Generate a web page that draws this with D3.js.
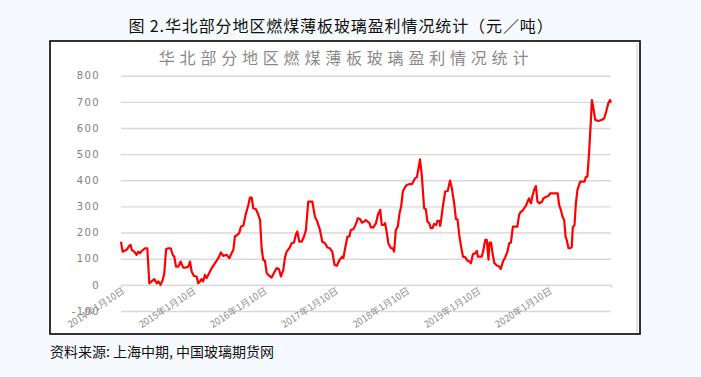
<!DOCTYPE html>
<html>
<head>
<meta charset="utf-8">
<script src="https://cdn.jsdelivr.net/npm/d3@7"></script>
<style>
  body { margin: 0; background: #f6f9fd; }
  svg { display: block; }
  .page-title { font-family: "Noto Sans CJK SC", sans-serif; font-size: 16px; fill: #111; letter-spacing: 0.9px; }
  .chart-title { font-family: "Noto Sans CJK SC", sans-serif; font-size: 16px; fill: #8a8a8a; letter-spacing: 4.8px; }
  .source { font-family: "Noto Sans CJK SC", sans-serif; font-size: 14px; fill: #111; }
  .y-axis text { font-family: "DejaVu Sans", sans-serif; font-size: 10px; fill: #7f7f7f; letter-spacing: 1.4px; }
  .x-axis text { font-family: "Noto Sans CJK SC", sans-serif; font-size: 9.5px; fill: #8f8f8f; }
</style>
</head>
<body>
<svg id="chart"></svg>
<script>
// weekly profit of coal-fired thin float glass, north China (yuan / ton)
const dates = [
  '2014-01-10','2014-01-18','2014-02-08','2014-02-21','2014-02-28','2014-03-06','2014-03-19','2014-03-31',
  '2014-04-08','2014-04-17','2014-04-26','2014-05-04','2014-05-13','2014-05-25','2014-06-04','2014-06-16',
  '2014-06-30','2014-07-12','2014-07-20','2014-08-01','2014-08-12','2014-08-20','2014-08-29','2014-09-09',
  '2014-09-22','2014-10-02','2014-10-10','2014-10-19','2014-10-31','2014-11-12','2014-11-25','2014-12-09',
  '2014-12-21','2014-12-30',
  '2015-01-07','2015-01-19','2015-02-02','2015-02-10','2015-02-19','2015-02-27','2015-03-07','2015-03-16',
  '2015-03-25','2015-04-02','2015-04-20','2015-05-07','2015-05-24','2015-06-06','2015-06-18','2015-07-06',
  '2015-07-19','2015-07-31','2015-08-09','2015-08-17','2015-08-29','2015-09-08','2015-09-17','2015-09-29',
  '2015-10-11','2015-10-25','2015-11-02','2015-11-11','2015-11-19','2015-12-03','2015-12-15','2015-12-24',
  '2016-01-01','2016-01-09','2016-01-18','2016-01-27','2016-02-04','2016-02-21','2016-03-04','2016-03-18',
  '2016-03-30','2016-04-09','2016-04-21','2016-04-30','2016-05-08','2016-05-22','2016-06-03','2016-06-15',
  '2016-06-25','2016-07-02','2016-07-12','2016-07-24','2016-08-05','2016-08-15','2016-08-27','2016-09-17',
  '2016-09-30','2016-10-12','2016-10-26','2016-11-07','2016-11-21','2016-12-03','2016-12-16','2016-12-28',
  '2017-01-09','2017-01-21','2017-02-03','2017-02-17','2017-02-23','2017-03-04','2017-03-16','2017-03-26',
  '2017-04-02','2017-04-16','2017-04-30','2017-05-08','2017-05-20','2017-05-29','2017-06-10','2017-06-18',
  '2017-06-27','2017-07-07','2017-07-14','2017-07-27','2017-08-09','2017-08-19','2017-08-31','2017-09-08',
  '2017-09-18','2017-09-25','2017-10-04','2017-10-12','2017-10-25','2017-11-03','2017-11-10','2017-11-19',
  '2017-11-29','2017-12-08','2017-12-16','2017-12-25',
  '2018-01-02','2018-01-14','2018-01-26','2018-02-09','2018-02-17','2018-02-26','2018-03-07','2018-03-15',
  '2018-03-23','2018-04-01','2018-04-13','2018-04-22','2018-04-30','2018-05-09','2018-05-17','2018-05-26',
  '2018-06-03','2018-06-14','2018-06-20','2018-07-01','2018-07-04','2018-07-09','2018-07-18','2018-07-30',
  '2018-08-12','2018-08-24','2018-09-02','2018-09-14','2018-09-23','2018-10-01','2018-10-10','2018-10-18',
  '2018-10-29','2018-11-09','2018-11-21','2018-12-01','2018-12-09','2018-12-19','2018-12-31',
  '2019-01-09','2019-01-13','2019-02-03','2019-02-11','2019-02-20','2019-02-28','2019-03-09','2019-03-14',
  '2019-03-22','2019-03-31','2019-04-08','2019-04-21','2019-05-03','2019-05-11','2019-05-22','2019-06-02',
  '2019-06-14','2019-06-23','2019-07-02','2019-07-12','2019-08-04','2019-08-13','2019-08-22','2019-08-30',
  '2019-09-08','2019-09-17','2019-09-25','2019-10-03','2019-10-08','2019-10-13','2019-10-20','2019-10-29',
  '2019-11-07','2019-11-15','2019-11-25','2019-12-08','2019-12-16','2019-12-30',
  '2020-01-10','2020-01-19','2020-02-05','2020-02-27','2020-03-05','2020-03-14','2020-03-22','2020-03-31',
  '2020-04-07','2020-04-14','2020-04-22','2020-05-01','2020-05-09','2020-05-14','2020-05-23','2020-05-30',
  '2020-06-07','2020-06-21','2020-07-13','2020-07-20','2020-07-28','2020-08-06','2020-08-15','2020-08-20',
  '2020-08-28','2020-09-06','2020-09-23','2020-10-10','2020-10-22','2020-11-01','2020-11-12','2020-11-21',
  '2020-11-26'
];
const profits = [
  165,127,134,149,153,134,127,115,
  127,121,130,134,140,140,6,13,
  22,6,13,0,19,45,136,140,
  140,115,108,70,70,89,66,66,
  70,89,
  51,34,32,6,13,22,13,38,
  26,38,64,83,102,124,111,115,
  102,121,134,185,191,198,223,226,
  268,306,334,334,293,289,268,248,
  140,96,92,45,38,28,45,64,
  60,32,57,106,127,140,159,162,
  194,204,165,165,185,210,318,318,
  261,242,210,165,159,143,140,127,
  76,73,95,108,102,140,185,185,
  210,213,236,255,251,238,242,248,
  242,236,220,220,236,268,287,229,
  229,236,198,157,140,140,127,210,
  223,274,299,357,
  370,382,385,385,395,408,412,446,
  480,420,293,289,242,236,217,217,
  233,229,245,245,226,248,299,357,
  359,399,370,312,251,251,191,153,
  108,106,93,89,83,117,121,
  130,108,108,134,172,172,96,162,
  162,115,83,74,70,61,89,104,
  127,159,162,223,223,268,280,283,
  293,302,318,331,318,312,340,363,
  378,318,312,318,331,337,
  340,350,350,350,306,287,261,248,
  185,169,140,140,146,220,229,312,
  363,395,395,412,414,510,630,707,
  675,631,627,631,637,662,694,707,
  697
];
const yTicks = [-100, 0, 100, 200, 300, 400, 500, 600, 700, 800];
const xTickDates = ['2014-01-10','2015-01-10','2016-01-10','2017-01-10','2018-01-10','2019-01-10','2020-01-10'];

const pageTitle = '图 2.华北部分地区燃煤薄板玻璃盈利情况统计（元／吨）';
const chartTitle = '华北部分地区燃煤薄板玻璃盈利情况统计';
const sourceNote = '资料来源: 上海中期, 中国玻璃期货网';

const config = {
  width: 701,
  height: 377,
  frame: {x: 50, y: 41, w: 590, h: 293},
  plot: {left: 121, right: 611, top: 75.7, bottom: 311}
};

const parseDate = d3.timeParse('%Y-%m-%d');
const data = dates.map((d, i) => ({date: parseDate(d), value: profits[i]}));

const svg = d3.select('#chart')
    .attr('width', config.width)
    .attr('height', config.height);

// white chart frame
svg.append('rect')
    .attr('x', config.frame.x)
    .attr('y', config.frame.y)
    .attr('width', config.frame.w)
    .attr('height', config.frame.h)
    .attr('fill', '#fff')
    .attr('stroke', '#000')
    .attr('stroke-width', 1.6);

// faint edge of the pasted picture
svg.append('line')
    .attr('x1', 637).attr('x2', 637)
    .attr('y1', config.frame.y + 2).attr('y2', config.frame.y + config.frame.h - 1)
    .attr('stroke', '#c8c8c8')
    .attr('stroke-width', 1);

svg.append('text')
    .attr('class', 'page-title')
    .attr('x', 341)
    .attr('y', 32)
    .attr('text-anchor', 'middle')
    .text(pageTitle);

svg.append('text')
    .attr('class', 'chart-title')
    .attr('x', 346)
    .attr('y', 64)
    .attr('text-anchor', 'middle')
    .text(chartTitle);

svg.append('text')
    .attr('class', 'source')
    .attr('x', 50)
    .attr('y', 357)
    .text(sourceNote);

// scales
const xScale = d3.scaleTime()
    .domain([parseDate('2014-01-10'), parseDate('2020-11-26')])
    .range([config.plot.left, config.plot.right]);

const yScale = d3.scaleLinear()
    .domain([-100, 800])
    .range([config.plot.bottom, config.plot.top]);

// horizontal gridlines + y labels
const yAxis = d3.axisLeft(yScale)
    .tickValues(yTicks)
    .tickSize(-(config.plot.right - config.plot.left))
    .tickPadding(21)
    .tickFormat(d => String(d));

svg.append('g')
    .attr('class', 'axis y-axis')
    .attr('transform', `translate(${config.plot.left},0)`)
    .call(yAxis)
    .call(g => g.select('.domain').remove())
    .call(g => g.selectAll('.tick line').attr('stroke', '#d9d9d9').attr('stroke-width', 1.4));

// category axis sits on the zero line
const xAxis = d3.axisBottom(xScale)
    .tickValues(xTickDates.map(parseDate))
    .tickSize(3)
    .tickFormat(d3.timeFormat('%Y年%-m月%-d日'));

svg.append('g')
    .attr('class', 'axis x-axis')
    .attr('transform', `translate(0,${yScale(0)})`)
    .call(xAxis)
    .call(g => g.select('.domain').attr('stroke', '#d9d9d9').attr('stroke-width', 1.4))
    .call(g => g.selectAll('.tick line').attr('stroke', '#d9d9d9'))
    .call(g => g.selectAll('.tick text')
        .attr('text-anchor', 'end')
        .attr('dy', '0.35em')
        .attr('y', 0)
        .attr('transform', 'translate(2,5) rotate(-33)'));

// profit line
const line = d3.line()
    .x(d => xScale(d.date))
    .y(d => yScale(d.value));

svg.append('path')
    .datum(data)
    .attr('fill', 'none')
    .attr('stroke', '#ff0000')
    .attr('stroke-width', 2.2)
    .attr('stroke-linejoin', 'round')
    .attr('d', line);
</script>
</body>
</html>
